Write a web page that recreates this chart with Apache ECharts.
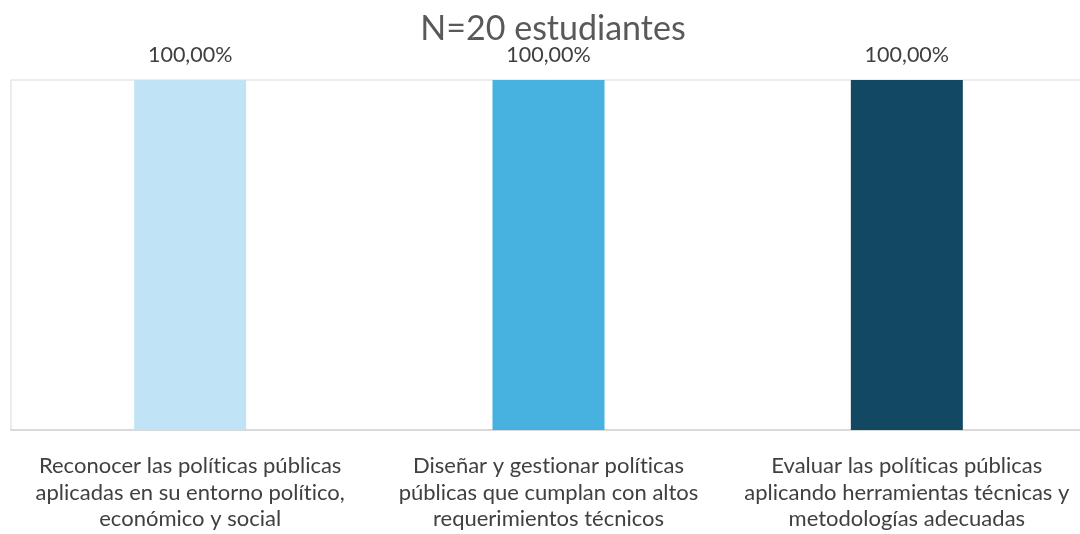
<!DOCTYPE html>
<html><head><meta charset="utf-8">
<script src="https://cdn.jsdelivr.net/npm/echarts@6/dist/echarts.min.js"></script>
<style>html,body{margin:0;padding:0;overflow:hidden;background:#fff}#c{width:1092px;height:534px}</style>
</head><body><div id="c"></div>
<script>
const titleText = "N=20 estudiantes";
const categories = [
  "Reconocer las políticas públicas\naplicadas en su entorno político,\neconómico y social",
  "Diseñar y gestionar políticas\npúblicas que cumplan con altos\nrequerimientos técnicos",
  "Evaluar las políticas públicas\naplicando herramientas técnicas y\nmetodologías adecuadas"
];
const values = [1, 1, 1];
const colors = ["#c0e4f5", "#47b1e0", "#124862"];

const FONT = 'Lato';
// break the Lato "ti" ligature with a zero-width non-joiner
const noLig = s => s.replace(/ti/g, 't\u200Ci');
const chart = echarts.init(document.getElementById('c'));
chart.setOption({
  animation: false,
  title: { text: titleText, left: 548, textAlign: 'center', top: 7,
    textStyle: { fontFamily: FONT, fontWeight: 'normal', fontSize: 34, color: '#595959' } },
  grid: { left: 11, right: 6, top: 80, bottom: 104, show: true, borderColor: '#d9d9d9', borderWidth: 1 },
  xAxis: { type: 'category', data: categories,
    axisLine: { show: true, lineStyle: { color: '#d9d9d9', width: 2 } },
    axisTick: { show: false },
    axisLabel: { interval: 0, fontFamily: FONT, fontSize: 22, color: '#404040', lineHeight: 26.5, margin: 23,
      formatter: noLig } },
  yAxis: { type: 'value', min: 0, max: 1, show: false, splitLine: { show: false } },
  series: [{
    type: 'bar', barWidth: 112,
    data: values.map((v, i) => ({ value: v, itemStyle: { color: colors[i] } })),
    label: { show: true, position: 'top', distance: 14,
      formatter: p => (p.value * 100).toFixed(2).replace('.', ',') + '%',
      fontFamily: FONT, fontSize: 21.5, color: '#404040' }
  }]
});
</script></body></html>
